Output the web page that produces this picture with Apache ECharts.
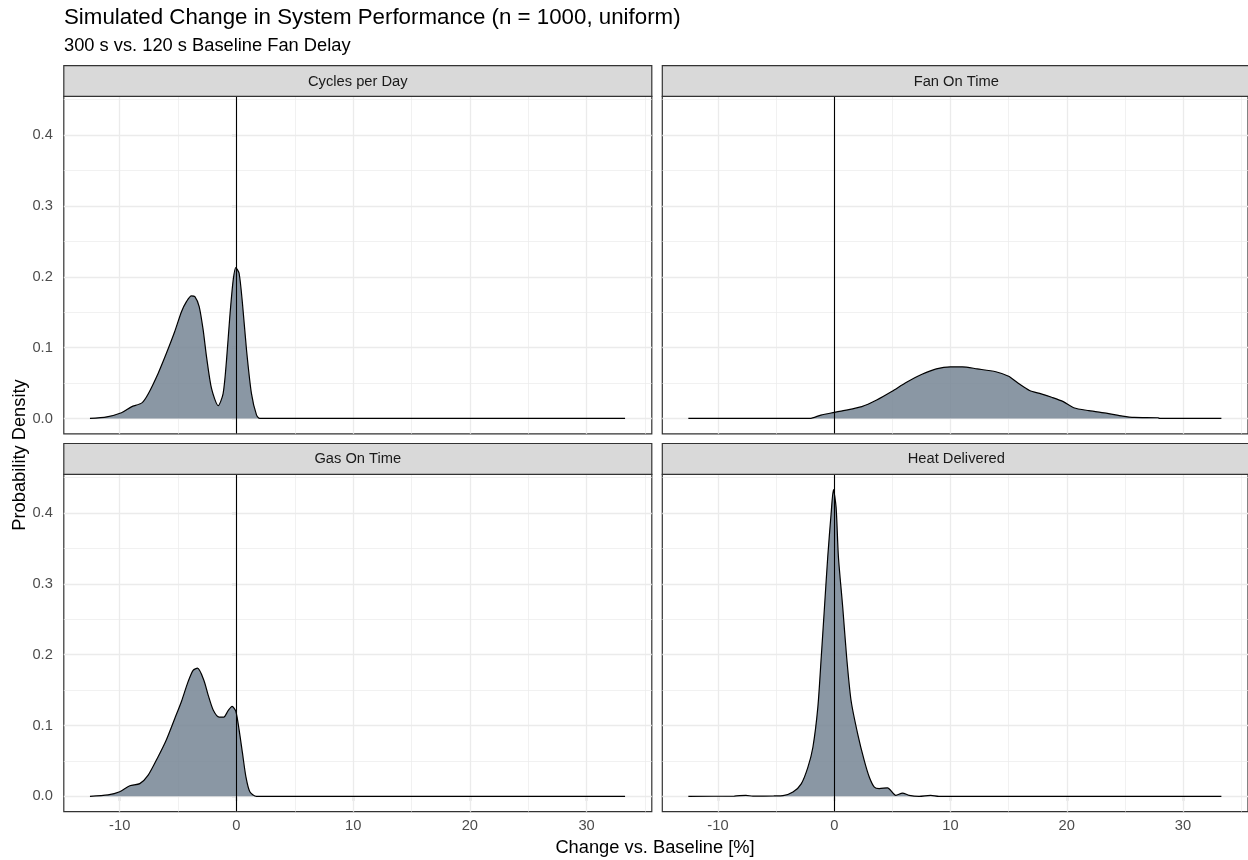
<!DOCTYPE html>
<html>
<head>
<meta charset="utf-8">
<script src="https://cdn.jsdelivr.net/npm/echarts@6/dist/echarts.min.js"></script>
<style>
  html, body { margin: 0; padding: 0; background: #ffffff; }
  #chart { width: 1248px; height: 860px; }
</style>
</head>
<body>
<div id="chart"></div>
<script>
// Kernel density estimates of the % change vs. baseline, one per metric: [change %, density]
const cyclesPerDay = [
  [-12.55, 0], [-11.1, 0.0023], [-9.85, 0.008], [-9.0, 0.0164], [-8.1, 0.022],
  [-7.55, 0.035], [-6.7, 0.064], [-6.0, 0.092], [-5.3, 0.122], [-4.7, 0.151],
  [-4.28, 0.165], [-3.85, 0.173], [-3.56, 0.172], [-3.19, 0.158], [-2.85, 0.125],
  [-2.56, 0.087], [-2.13, 0.042], [-1.56, 0.018], [-1.14, 0.035], [-0.85, 0.082],
  [-0.57, 0.143], [-0.28, 0.195], [-0.05, 0.213], [0.23, 0.205], [0.52, 0.162],
  [0.87, 0.096], [1.29, 0.035], [1.72, 0.005], [2.0, 0], [33.3, 0]
];
const fanOnTime = [
  [-12.55, 0], [-2.1, 0], [-1.15, 0.0048], [0, 0.0086], [0.77, 0.011],
  [2.37, 0.0167], [3.65, 0.026], [4.94, 0.038], [6.22, 0.051], [7.5, 0.062],
  [8.78, 0.070], [10.0, 0.0729], [11.0, 0.0729], [12.3, 0.070], [13.9, 0.066],
  [15.0, 0.0595], [15.8, 0.050], [16.8, 0.0395], [17.8, 0.0348], [18.7, 0.030],
  [19.7, 0.0238], [20.6, 0.0152], [21.9, 0.011], [23.5, 0.0071], [24.8, 0.0033],
  [25.8, 0.0014], [27.85, 0.001], [28.0, 0], [33.3, 0]
];
const gasOnTime = [
  [-12.55, 0], [-11.0, 0.002], [-10.0, 0.0065], [-9.13, 0.015], [-8.28, 0.018],
  [-7.56, 0.030], [-6.71, 0.056], [-6.0, 0.080], [-5.28, 0.110], [-4.71, 0.134],
  [-4.14, 0.162], [-3.71, 0.178], [-3.33, 0.181], [-2.79, 0.164], [-2.42, 0.143],
  [-1.99, 0.122], [-1.48, 0.112], [-1.08, 0.112], [-0.71, 0.121], [-0.37, 0.127],
  [-0.05, 0.120], [0.23, 0.094], [0.52, 0.061], [0.81, 0.028], [1.15, 0.0065],
  [1.72, 0], [33.3, 0]
];
const heatDelivered = [
  [-12.55, 0], [-8.6, 0.0004], [-7.6, 0.0015], [-7.0, 0.0003], [-5.2, 0.0006],
  [-4.41, 0.001], [-3.55, 0.006], [-2.84, 0.0177], [-2.27, 0.041], [-1.84, 0.069],
  [-1.41, 0.126], [-1.12, 0.196], [-0.84, 0.267], [-0.56, 0.338], [-0.27, 0.399],
  [-0.07, 0.433], [0.16, 0.408], [0.36, 0.338], [0.73, 0.267], [1.07, 0.196],
  [1.45, 0.135], [2.02, 0.088], [2.59, 0.050], [3.02, 0.027], [3.45, 0.013],
  [3.87, 0.011], [4.58, 0.012], [5.3, 0.0014], [5.87, 0.0047], [6.44, 0.0014],
  [7.3, 0], [8.3, 0.0014], [9.0, 0], [33.3, 0]
];

const facetNames = ['Cycles per Day', 'Fan On Time', 'Gas On Time', 'Heat Delivered'];
const facetData = [cyclesPerDay, fanOnTime, gasOnTime, heatDelivered];

const xTicks = [-10, 0, 10, 20, 30];
const xMinorGrid = [-5, 5, 15, 25, 35];
const yTicks = [0, 0.1, 0.2, 0.3, 0.4];
const yMinorGrid = [0.05, 0.15, 0.25, 0.35, 0.45];
const xRange = [-14.79, 35.59];
const yRange = [-0.02165, 0.4547];

const FONT = '"Liberation Sans", Arial, sans-serif';

// panel layout (2 x 2 facets)
const panelW = 588, panelH = 337.4, stripH = 30.8;
const colLeft = [63.8, 662.3];
const rowTop = [96.4, 474.3];

const grids = [], xAxes = [], yAxes = [], series = [], graphics = [];

facetNames.forEach(function (name, i) {
  const col = i % 2, row = Math.floor(i / 2);
  const left = colLeft[col], top = rowTop[row];
  grids.push({
    left: left, top: top, width: panelW, height: panelH,
    show: true, borderColor: '#333333', borderWidth: 1.2, backgroundColor: 'transparent'
  });
  xAxes.push({
    type: 'value', gridIndex: i, min: xRange[0], max: xRange[1],
    axisLine: { show: false },
    splitLine: { show: false },
    axisTick: { show: row === 1, customValues: xTicks, length: 4.5, lineStyle: { color: '#333333', width: 1.2 } },
    axisLabel: {
      show: row === 1, customValues: xTicks, margin: 7,
      color: '#4d4d4d', fontSize: 14.7, fontFamily: FONT,
      formatter: function (v) { return String(v); }
    }
  });
  yAxes.push({
    type: 'value', gridIndex: i, min: yRange[0], max: yRange[1],
    axisLine: { show: false },
    splitLine: { show: false },
    axisTick: { show: col === 0, customValues: yTicks, length: 4.5, lineStyle: { color: '#333333', width: 1.2 } },
    axisLabel: {
      show: col === 0, customValues: yTicks, margin: 11,
      color: '#4d4d4d', fontSize: 14.7, fontFamily: FONT,
      formatter: function (v) { return v.toFixed(1); }
    }
  });

  // background grid lines
  const gridLines = [];
  xMinorGrid.forEach(function (v) { gridLines.push({ xAxis: v, lineStyle: { color: '#ebebeb', width: 0.7 } }); });
  yMinorGrid.forEach(function (v) { gridLines.push({ yAxis: v, lineStyle: { color: '#ebebeb', width: 0.7 } }); });
  xTicks.forEach(function (v) { gridLines.push({ xAxis: v, lineStyle: { color: '#ebebeb', width: 1.3 } }); });
  yTicks.forEach(function (v) { gridLines.push({ yAxis: v, lineStyle: { color: '#ebebeb', width: 1.3 } }); });
  series.push({
    type: 'line', xAxisIndex: i, yAxisIndex: i, data: [], z: 1, silent: true,
    markLine: {
      z: 1, silent: true, symbol: ['none', 'none'], animation: false,
      label: { show: false }, lineStyle: { type: 'solid' },
      data: gridLines
    }
  });

  // density curve
  series.push({
    type: 'line', name: name, xAxisIndex: i, yAxisIndex: i, z: 2,
    data: facetData[i], showSymbol: false, symbol: 'none', smooth: 0.25,
    lineStyle: { color: '#000000', width: 1.2 },
    areaStyle: { color: 'rgba(112,128,144,0.82)', opacity: 1, origin: 0 },
    silent: true
  });

  // reference line at zero change
  series.push({
    type: 'line', xAxisIndex: i, yAxisIndex: i, data: [], z: 3, silent: true,
    markLine: {
      z: 6, silent: true, symbol: ['none', 'none'], animation: false,
      label: { show: false },
      lineStyle: { type: 'solid', color: '#000000', width: 1.1 },
      data: [{ xAxis: 0 }]
    }
  });

  // facet strip
  const stripTop = top - stripH;
  graphics.push({
    type: 'rect', z: 10,
    shape: { x: left, y: stripTop, width: panelW, height: stripH },
    style: { fill: '#d9d9d9', stroke: '#333333', lineWidth: 1.2 }
  });
  graphics.push({
    type: 'text', z: 11,
    x: left + panelW / 2, y: stripTop + stripH / 2 + 0.5,
    style: {
      text: name, fill: '#1a1a1a', font: '14.7px ' + FONT,
      textAlign: 'center', textVerticalAlign: 'middle'
    }
  });
});

// titles
graphics.push({
  type: 'text', x: 64, y: 18,
  style: { text: 'Simulated Change in System Performance (n = 1000, uniform)', fill: '#000000',
           font: '22.3px ' + FONT, textAlign: 'left', textVerticalAlign: 'middle' }
});
graphics.push({
  type: 'text', x: 64, y: 46,
  style: { text: '300 s vs. 120 s Baseline Fan Delay', fill: '#000000',
           font: '18.3px ' + FONT, textAlign: 'left', textVerticalAlign: 'middle' }
});
// axis titles
graphics.push({
  type: 'text', x: 655, y: 848,
  style: { text: 'Change vs. Baseline [%]', fill: '#000000',
           font: '18.3px ' + FONT, textAlign: 'center', textVerticalAlign: 'middle' }
});
graphics.push({
  type: 'text', x: 20, y: 455, rotation: Math.PI / 2,
  style: { text: 'Probability Density', fill: '#000000',
           font: '18.3px ' + FONT, textAlign: 'center', textVerticalAlign: 'middle' }
});

const chart = echarts.init(document.getElementById('chart'), null, { renderer: 'canvas' });
chart.setOption({
  animation: false,
  backgroundColor: '#ffffff',
  grid: grids,
  xAxis: xAxes,
  yAxis: yAxes,
  series: series,
  graphic: { elements: graphics }
});
</script>
</body>
</html>
